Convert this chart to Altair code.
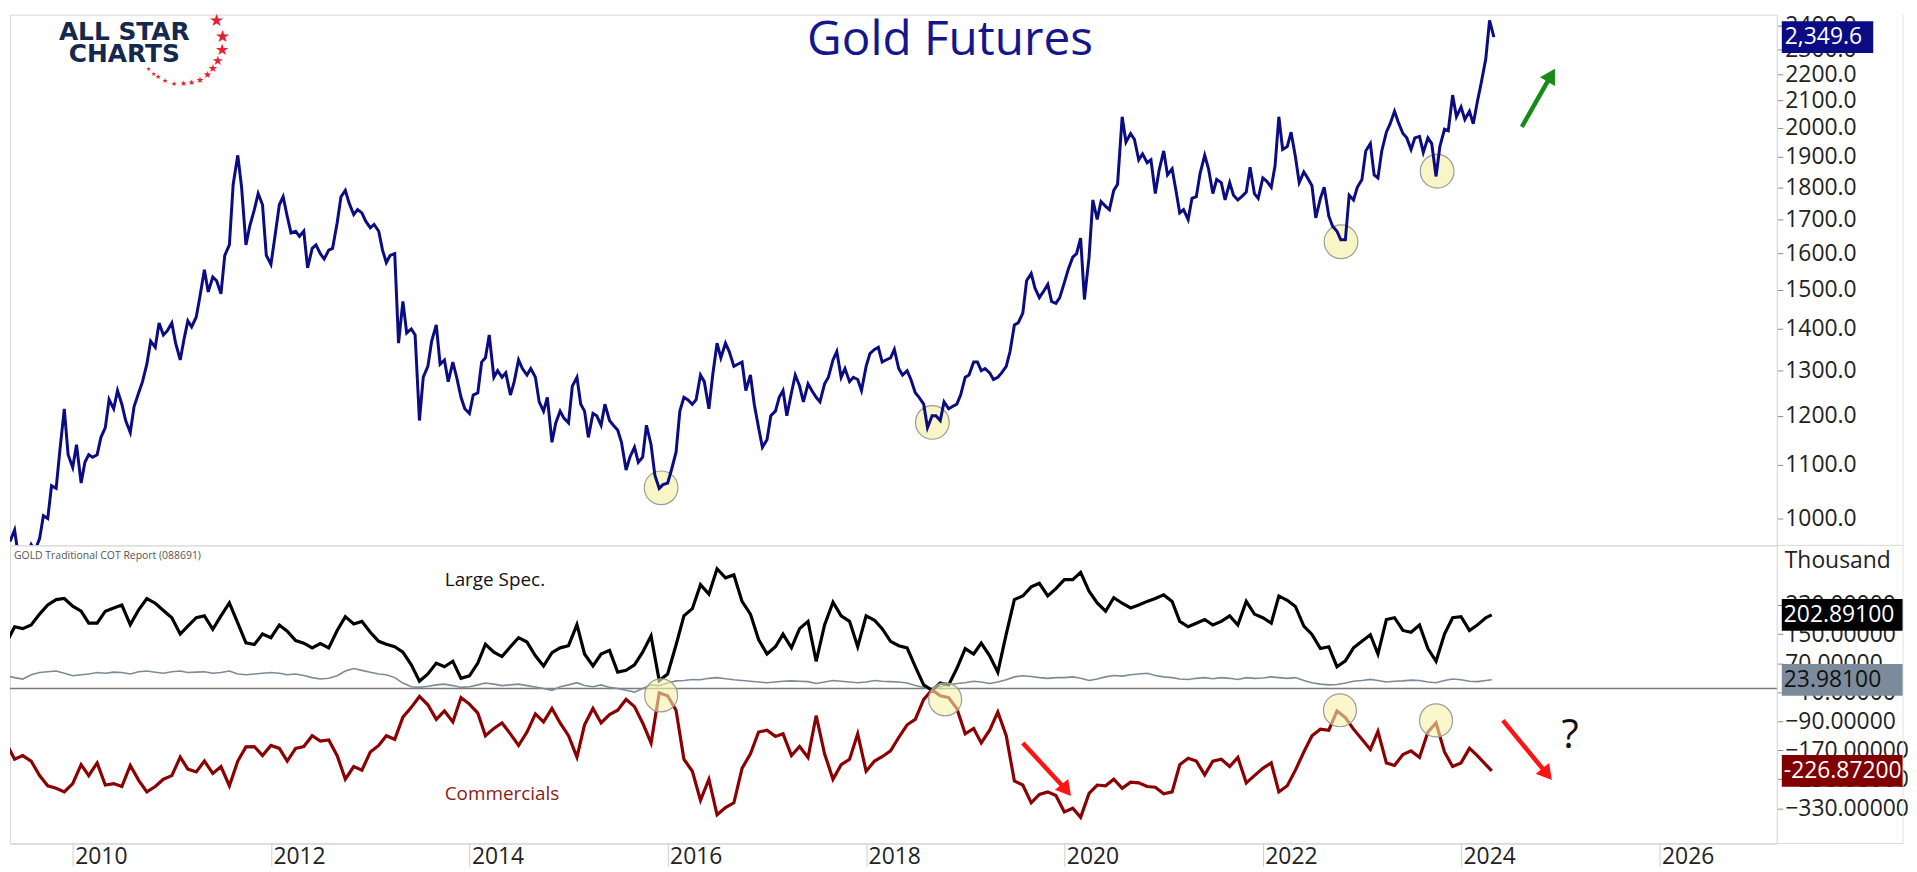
import altair as alt
import numpy as np
import pandas as pd

# ---------------- Gold futures (semi-monthly closes) -------------
gold_2009 = [960, 980, 935, 930, 935, 955, 945, 965, 1005, 1000, 1060, 1055, 1130, 1215, 1120]
gold_2010 = [1095, 1140, 1065, 1105, 1120, 1115, 1120, 1155, 1175, 1235, 1215, 1255,
             1225, 1190, 1165, 1220, 1250, 1275, 1315, 1370, 1355, 1415, 1385, 1395]
gold_2011 = [1415, 1365, 1325, 1375, 1420, 1405, 1430, 1485, 1555, 1495, 1535, 1525,
             1490, 1595, 1625, 1810, 1905, 1800, 1625, 1680, 1730, 1780, 1745, 1595]
gold_2012 = [1570, 1645, 1745, 1770, 1710, 1660, 1665, 1650, 1665, 1560, 1615, 1625,
             1600, 1585, 1610, 1615, 1690, 1770, 1790, 1750, 1715, 1730, 1720, 1695]
gold_2013 = [1675, 1685, 1665, 1610, 1575, 1595, 1600, 1365, 1470, 1390, 1400, 1385,
             1190, 1285, 1310, 1370, 1410, 1315, 1325, 1275, 1320, 1285, 1240, 1215]
gold_2014 = [1205, 1245, 1250, 1320, 1330, 1385, 1285, 1300, 1285, 1295, 1245, 1275,
             1325, 1305, 1290, 1305, 1285, 1230, 1210, 1240, 1145, 1185, 1210, 1195]
gold_2015 = [1185, 1265, 1285, 1225, 1210, 1155, 1205, 1200, 1180, 1225, 1190, 1180,
             1170, 1145, 1090, 1115, 1135, 1105, 1115, 1180, 1140, 1080, 1055, 1062]
gold_2016 = [1065, 1090, 1125, 1210, 1240, 1235, 1225, 1235, 1290, 1275, 1215, 1290,
             1365, 1330, 1365, 1345, 1310, 1315, 1320, 1255, 1290, 1225, 1175, 1135]
gold_2017 = [1150, 1200, 1210, 1240, 1255, 1200, 1250, 1290, 1265, 1230, 1270, 1255,
             1240, 1230, 1270, 1285, 1325, 1345, 1285, 1305, 1275, 1285, 1280, 1255]
gold_2018 = [1310, 1340, 1350, 1355, 1320, 1325, 1330, 1350, 1305, 1290, 1300, 1280,
             1250, 1240, 1225, 1175, 1200, 1200, 1190, 1230, 1215, 1220, 1225, 1245]
gold_2019 = [1285, 1290, 1320, 1320, 1300, 1305, 1295, 1280, 1285, 1295, 1310, 1345,
             1410, 1415, 1440, 1525, 1545, 1505, 1480, 1495, 1515, 1470, 1465, 1480]
gold_2020 = [1520, 1555, 1590, 1600, 1645, 1475, 1590, 1760, 1700, 1755, 1740, 1730,
             1790, 1810, 2040, 1950, 1980, 1960, 1890, 1910, 1880, 1890, 1780, 1855]
gold_2021 = [1920, 1840, 1860, 1790, 1720, 1730, 1700, 1765, 1770, 1845, 1905, 1860,
             1780, 1825, 1815, 1760, 1815, 1775, 1760, 1770, 1785, 1865, 1780, 1765]
gold_2022 = [1830, 1820, 1800, 1870, 2040, 1925, 1935, 1985, 1900, 1815, 1850, 1830,
             1805, 1705, 1765, 1800, 1710, 1680, 1665, 1640, 1640, 1775, 1760, 1800]
gold_2023 = [1825, 1920, 1945, 1840, 1830, 1920, 1985, 2015, 2060, 2020, 1980, 1965,
             1925, 1965, 1970, 1915, 1965, 1945, 1835, 1935, 1995, 1990, 2120, 2040]
gold_2024 = [2075, 2030, 2060, 2015, 2095, 2165, 2260, 2420, 2349.6]

gold_values = (gold_2009 + gold_2010 + gold_2011 + gold_2012 + gold_2013 + gold_2014 +
               gold_2015 + gold_2016 + gold_2017 + gold_2018 + gold_2019 + gold_2020 +
               gold_2021 + gold_2022 + gold_2023 + gold_2024)
gold_dates = pd.date_range("2009-05-15", periods=len(gold_values), freq="SMS")

# ---------------- COT report, monthly (thousand contracts) ----------------
ls_2009 = [125, 170, 165, 175, 205, 230, 245, 248]
ls_2010 = [227, 213, 180, 180, 213, 222, 230, 176, 217, 248, 235, 215]
ls_2011 = [195, 150, 172, 195, 200, 163, 200, 236, 180, 126, 121, 150]
ls_2012 = [140, 175, 158, 132, 125, 112, 124, 112, 160, 198, 178, 185]
ls_2013 = [155, 130, 122, 115, 100, 65, 20, 40, 70, 60, 75, 28]
ls_2014 = [35, 70, 122, 100, 88, 115, 140, 128, 90, 62, 99, 112]
ls_2015 = [118, 176, 95, 62, 95, 105, 45, 50, 65, 100, 145, 22]
ls_2016 = [40, 120, 200, 220, 286, 260, 330, 305, 313, 240, 205, 135]
ls_2017 = [95, 115, 150, 112, 165, 185, 75, 175, 238, 200, 185, 115]
ls_2018 = [200, 188, 165, 130, 118, 112, 60, 10, -5, 15, 10, 55]
ls_2019 = [110, 95, 125, 90, 45, 150, 245, 255, 280, 290, 255, 275]
ls_2020 = [300, 300, 320, 268, 236, 213, 250, 235, 222, 230, 240, 248]
ls_2021 = [258, 240, 185, 170, 180, 190, 175, 185, 200, 175, 240, 205]
ls_2022 = [195, 180, 255, 243, 226, 172, 149, 110, 115, 60, 76, 112]
ls_2023 = [130, 148, 95, 190, 195, 160, 155, 175, 110, 75, 150, 195]
ls_2024 = [198, 160, 175, 195, 202.891]

cm_2009 = [-150, -195, -185, -200, -240, -268, -275, -285]
cm_2010 = [-262, -210, -240, -205, -266, -262, -270, -212, -253, -285, -270, -250]
cm_2011 = [-240, -189, -222, -230, -200, -234, -215, -268, -200, -161, -160, -185]
cm_2012 = [-157, -165, -200, -165, -160, -130, -145, -142, -185, -250, -215, -225]
cm_2013 = [-175, -157, -130, -140, -79, -52, -22, -45, -85, -62, -92, -25]
cm_2014 = [-43, -68, -130, -110, -95, -125, -157, -120, -70, -92, -55, -95]
cm_2015 = [-130, -189, -100, -55, -95, -72, -60, -30, -50, -95, -150, -12]
cm_2016 = [-20, -60, -195, -228, -308, -250, -348, -328, -315, -220, -180, -120]
cm_2017 = [-115, -132, -125, -185, -160, -190, -75, -180, -250, -210, -195, -125]
cm_2018 = [-228, -200, -188, -172, -135, -100, -85, -30, -4, -20, -25, -55]
cm_2019 = [-125, -110, -150, -115, -65, -130, -255, -266, -315, -292, -285, -295]
cm_2020 = [-340, -330, -355, -289, -266, -268, -250, -275, -258, -260, -270, -272]
cm_2021 = [-290, -285, -210, -192, -200, -238, -200, -195, -215, -190, -260, -240]
cm_2022 = [-220, -205, -285, -268, -225, -175, -130, -112, -115, -62, -80, -112]
cm_2023 = [-140, -168, -118, -205, -212, -182, -172, -190, -120, -95, -175, -215]
cm_2024 = [-205, -165, -185, -210, -226.872]

sm_2009 = [35, 30, 26, 38, 44, 46, 48, 42]
sm_2010 = [35, 38, 40, 44, 42, 45, 44, 40, 46, 48, 45, 42]
sm_2011 = [46, 48, 44, 45, 46, 42, 44, 48, 40, 38, 40, 42]
sm_2012 = [44, 42, 38, 40, 36, 30, 26, 28, 35, 48, 55, 50]
sm_2013 = [45, 40, 38, 30, 15, 5, 3, 6, 10, 12, 8, 3]
sm_2014 = [5, 10, 15, 12, 8, 10, 12, 8, 4, 0, -5, 5]
sm_2015 = [10, 16, 8, 5, 10, 3, 0, -5, -10, 0, 10, 8]
sm_2016 = [15, 21, 22, 25, 24, 28, 30, 27, 24, 22, 20, 18]
sm_2017 = [16, 18, 20, 21, 20, 19, 14, 18, 22, 20, 18, 16]
sm_2018 = [18, 22, 20, 19, 18, 15, 8, 3, 0, 5, 10, 14]
sm_2019 = [16, 20, 18, 14, 18, 24, 32, 35, 33, 30, 28, 30]
sm_2020 = [30, 32, 28, 22, 26, 32, 36, 34, 38, 40, 42, 36]
sm_2021 = [32, 30, 26, 25, 28, 30, 27, 30, 28, 25, 30, 28]
sm_2022 = [29, 32, 30, 28, 30, 22, 16, 12, 10, 11, 15, 20]
sm_2023 = [22, 25, 22, 18, 20, 21, 23, 22, 18, 16, 22, 26]
sm_2024 = [24, 20, 19, 22, 23.981]

large_spec = (ls_2009 + ls_2010 + ls_2011 + ls_2012 + ls_2013 + ls_2014 + ls_2015 + ls_2016 +
              ls_2017 + ls_2018 + ls_2019 + ls_2020 + ls_2021 + ls_2022 + ls_2023 + ls_2024)
commercials = (cm_2009 + cm_2010 + cm_2011 + cm_2012 + cm_2013 + cm_2014 + cm_2015 + cm_2016 +
               cm_2017 + cm_2018 + cm_2019 + cm_2020 + cm_2021 + cm_2022 + cm_2023 + cm_2024)
small_spec = (sm_2009 + sm_2010 + sm_2011 + sm_2012 + sm_2013 + sm_2014 + sm_2015 + sm_2016 +
              sm_2017 + sm_2018 + sm_2019 + sm_2020 + sm_2021 + sm_2022 + sm_2023 + sm_2024)
cot_dates = list(pd.date_range("2009-05-01", "2024-04-01", freq="MS")) + [pd.Timestamp("2024-04-23")]

# ---------------- annotations (data coordinates) ----------------
top_circle_dates = ["2015-12-08", "2018-09-02", "2022-10-16", "2023-10-05"]
top_circle_prices = [1056, 1186, 1634, 1852]
bot_circle_dates = ["2015-12-08", "2018-10-19", "2022-10-12", "2023-10-01"]
bot_circle_values = [-19, -30, -60, -88]

green_arrow = {"d1": ["2024-08-12"], "v1": [2004], "d2": ["2024-11-28"], "v2": [2196]}
red_arrows = {"d1": ["2019-08-01", "2024-06-03"], "v1": [-150, -88],
              "d2": ["2020-01-08", "2024-11-13"], "v2": [-280, -236]}
question_mark = {"d": ["2025-02-06"], "v": [-132], "t": ["?"]}
series_labels = {"d": ["2014-04-05", "2014-05-01"], "v": [299, -290],
                 "t": ["Large Spec.", "Commercials"], "c": ["#111111", "#8b1a1a"]}

top_ticks = [1000, 1100, 1200, 1300, 1400, 1500, 1600, 1700, 1800, 1900, 2000, 2100, 2200, 2300, 2400]
bot_ticks = [-330, -250, -170, -90, -10, 70, 150, 230]
year_ticks = list(range(2010, 2027, 2))

# ---------------- styling ----------------
FONT = "Open Sans"
NAVY = "#0b0b84"
W, H1, H2 = 1778, 534, 300
LBL = 23
xdom = [alt.DateTime(year=2009, month=5, date=15), alt.DateTime(year=2027, month=3, date=9)]
xscale = alt.Scale(domain=xdom)
yscale_top = alt.Scale(type="log", domain=[953.6, 2445])
yscale_bot = alt.Scale(domain=[-427, 394.5])

top_y_axis = alt.Axis(orient="right", values=top_ticks, format=".1f", title=None,
                      labelFontSize=LBL, labelFont=FONT, labelColor="#222222",
                      tickColor="#8a8a8a", tickSize=6, domainColor="#dddddd",
                      labelPadding=2, labelOverlap=False, grid=False)
bot_y_axis = alt.Axis(orient="right", values=bot_ticks, format=".5f", title=None,
                      labelFontSize=LBL, labelFont=FONT, labelColor="#222222",
                      tickColor="#8a8a8a", tickSize=6, domainColor="#dddddd",
                      labelPadding=2, labelOverlap=False, grid=False)
bot_x_axis = alt.Axis(values=[alt.DateTime(year=y, month=1, date=1) for y in year_ticks],
                      format="%Y", title=None, labelFontSize=23, labelFont=FONT,
                      labelColor="#222222", labelAlign="left", labelBaseline="top",
                      labelPadding=-21, labelOffset=2, tickSize=23, tickColor="#cfcfcf",
                      domainColor="#cfcfcf", grid=False, labelFlush=False, labelOverlap=False)


def xt(field, axis):
    return alt.X(field, type="temporal", scale=xscale, axis=axis)


def yt_top(field):
    return alt.Y(field, type="quantitative", scale=yscale_top, axis=top_y_axis)


def yt_bot(field):
    return alt.Y(field, type="quantitative", scale=yscale_bot, axis=bot_y_axis)


one = pd.DataFrame({"a": [0]})

# ---------------- top panel ----------------
gold_df = pd.DataFrame({"date": gold_dates, "price": gold_values})
tc_df = pd.DataFrame({"date": pd.to_datetime(top_circle_dates), "price": top_circle_prices})
ga_df = pd.DataFrame(green_arrow)
ga_df["d1"] = pd.to_datetime(ga_df["d1"])
ga_df["d2"] = pd.to_datetime(ga_df["d2"])
last_price = gold_values[-1]
price_box = pd.DataFrame({"v": [last_price], "t": [f"{last_price:,.1f}"]})

top_layers = [
    alt.Chart(tc_df).mark_point(shape="circle", size=1150, filled=True, fill="#f8f5c6",
                                stroke="#9c9c9c", strokeWidth=1.2, opacity=1)
    .encode(x=xt("date", None), y=yt_top("price")),
    alt.Chart(gold_df).mark_line(color=NAVY, strokeWidth=3, clip=True)
    .encode(x=xt("date", None), y=yt_top("price")),
    alt.Chart(ga_df).mark_rule(color="#188a18", strokeWidth=4.5)
    .encode(x=xt("d1", None), x2=alt.X2("d2"), y=yt_top("v1"), y2=alt.Y2("v2")),
    alt.Chart(ga_df).mark_point(shape="triangle-up", size=300, filled=True, color="#188a18",
                                angle=30, opacity=1)
    .encode(x=xt("d2", None), y=yt_top("v2")),
    alt.Chart(price_box).mark_rect(color=NAVY, yOffset=-16, y2Offset=16)
    .encode(x=alt.value(W + 5), x2=alt.value(W + 97), y=yt_top("v"), y2=alt.Y2("v")),
    alt.Chart(price_box).mark_text(color="white", align="left", baseline="middle",
                                   fontSize=LBL, font=FONT)
    .encode(x=alt.value(W + 8), y=yt_top("v"), text="t:N"),
    alt.Chart(one).mark_text(text="Gold Futures", color="#16168c", fontSize=48, font=FONT,
                             align="center", baseline="alphabetic")
    .encode(x=alt.value(946), y=alt.value(41)),
    alt.Chart(one).mark_text(text="ALL STAR", color="#15284d", fontSize=25, fontWeight="bold",
                             font="DejaVu Sans", align="center", baseline="middle")
    .encode(x=alt.value(115), y=alt.value(17)),
    alt.Chart(one).mark_text(text="CHARTS", color="#15284d", fontSize=25, fontWeight="bold",
                             font="DejaVu Sans", align="center", baseline="middle")
    .encode(x=alt.value(115), y=alt.value(40)),
    alt.Chart(one).mark_rule(color="#e2e2e2", strokeWidth=1)
    .encode(x=alt.value(W + 127), y=alt.value(0), y2=alt.value(H1)),
]

# logo stars on an arc (decoration)
star_angles = [-31, -8, 11, 27, 40, 51, 63, 76, 87, 100, 112, 123, 131, 141]
star_sizes = [17, 17, 16, 13, 11, 10, 9, 8, 8, 7, 7, 7, 6, 6]
for a, s in zip(star_angles, star_sizes):
    sx = 172 + 42 * np.cos(np.radians(a))
    sy = 28 + 42 * np.sin(np.radians(a))
    top_layers.append(
        alt.Chart(one).mark_text(text="★", color="#e3202f", fontSize=s, align="center",
                                 baseline="middle")
        .encode(x=alt.value(float(sx)), y=alt.value(float(sy)))
    )

top = alt.layer(*top_layers).properties(width=W, height=H1)

# ---------------- bottom panel ----------------
cot_df = pd.DataFrame({"date": cot_dates, "ls": large_spec, "cm": commercials, "sm": small_spec})
bc_df = pd.DataFrame({"date": pd.to_datetime(bot_circle_dates), "v": bot_circle_values})
ra_df = pd.DataFrame(red_arrows)
ra_df["d1"] = pd.to_datetime(ra_df["d1"])
ra_df["d2"] = pd.to_datetime(ra_df["d2"])
qm_df = pd.DataFrame(question_mark)
qm_df["d"] = pd.to_datetime(qm_df["d"])
sl_df = pd.DataFrame(series_labels)
sl_df["d"] = pd.to_datetime(sl_df["d"])
zero_df = pd.DataFrame({"v": [0]})
boxes = pd.DataFrame({
    "v": [large_spec[-1], small_spec[-1], commercials[-1]],
    "t": [f"{large_spec[-1]:.5f}", f"{small_spec[-1]:.5f}", f"{commercials[-1]:.5f}"],
    "bg": ["#000000", "#7b8b9b", "#800000"],
    "fg": ["#ffffff", "#111111", "#ffffff"],
})

bot_layers = [
    alt.Chart(zero_df).mark_rule(color="#7a7a7a", strokeWidth=1.6)
    .encode(x=alt.value(0), x2=alt.value(W), y=yt_bot("v")),
    alt.Chart(cot_df).mark_line(color="#7d8b99", strokeWidth=1.6, clip=True)
    .encode(x=xt("date", bot_x_axis), y=yt_bot("sm")),
    alt.Chart(cot_df).mark_line(color="#000000", strokeWidth=3.2, clip=True)
    .encode(x=xt("date", bot_x_axis), y=yt_bot("ls")),
    alt.Chart(cot_df).mark_line(color="#8b0000", strokeWidth=3.2, clip=True)
    .encode(x=xt("date", bot_x_axis), y=yt_bot("cm")),
    alt.Chart(bc_df).mark_point(shape="circle", size=1100, filled=True, fill="#f6f1ac",
                                fillOpacity=0.6, stroke="#9c9c9c", strokeWidth=1.2)
    .encode(x=xt("date", bot_x_axis), y=yt_bot("v")),
    alt.Chart(ra_df).mark_rule(color="#ff1414", strokeWidth=4.5)
    .encode(x=xt("d1", bot_x_axis), x2=alt.X2("d2"), y=yt_bot("v1"), y2=alt.Y2("v2")),
    alt.Chart(ra_df).mark_point(shape="triangle-up", size=300, filled=True, color="#ff1414",
                                angle=141, opacity=1)
    .encode(x=xt("d2", bot_x_axis), y=yt_bot("v2")),
    alt.Chart(qm_df).mark_text(fontSize=40, font=FONT, color="#111111", align="center",
                               baseline="middle")
    .encode(x=xt("d", bot_x_axis), y=yt_bot("v"), text="t:N"),
    alt.Chart(sl_df).mark_text(fontSize=19, font=FONT, align="center", baseline="middle")
    .encode(x=xt("d", bot_x_axis), y=yt_bot("v"), text="t:N", color=alt.Color("c:N", scale=None)),
    alt.Chart(one).mark_text(text="GOLD Traditional COT Report (088691)", fontSize=10.5, font=FONT,
                             color="#555555", align="left", baseline="middle")
    .encode(x=alt.value(4), y=alt.value(11)),
    alt.Chart(one).mark_text(text="Thousand", fontSize=LBL, font=FONT, color="#222222",
                             align="left", baseline="middle")
    .encode(x=alt.value(W + 8), y=alt.value(16)),
    alt.Chart(boxes).mark_rect(yOffset=-16, y2Offset=16)
    .encode(x=alt.value(W + 5), x2=alt.value(W + 127), y=yt_bot("v"), y2=alt.Y2("v"),
            color=alt.Color("bg:N", scale=None)),
    alt.Chart(boxes).mark_text(align="left", baseline="middle", fontSize=LBL, font=FONT)
    .encode(x=alt.value(W + 7), y=yt_bot("v"), text="t:N", color=alt.Color("fg:N", scale=None)),
    alt.Chart(one).mark_rule(color="#e2e2e2", strokeWidth=1)
    .encode(x=alt.value(W + 127), y=alt.value(0), y2=alt.value(H2)),
    alt.Chart(one).mark_rule(color="#d9d9d9", strokeWidth=1)
    .encode(x=alt.value(W), x2=alt.value(W + 127), y=alt.value(0)),
    alt.Chart(one).mark_rule(color="#d9d9d9", strokeWidth=1)
    .encode(x=alt.value(W), x2=alt.value(W + 127), y=alt.value(H2)),
]

bottom = alt.layer(*bot_layers).properties(width=W, height=H2)

chart = (
    alt.vconcat(top, bottom, spacing=0)
    .properties(padding=0, bounds="flush")
    .configure_view(stroke="#d9d9d9", strokeWidth=1)
)

chart.save("out.html", embed_options={"renderer": "svg", "actions": False})
